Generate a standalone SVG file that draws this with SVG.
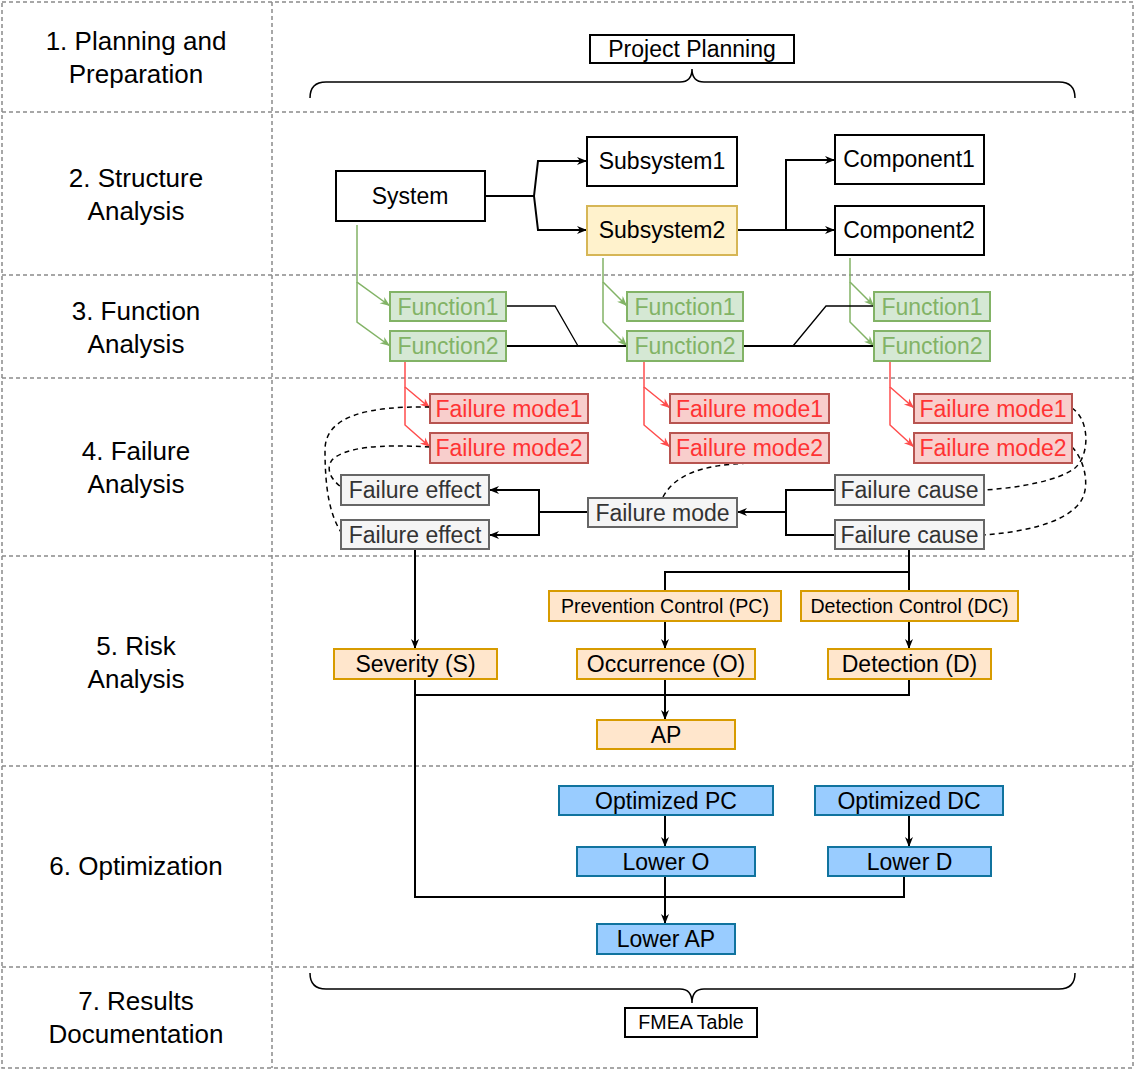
<svg xmlns="http://www.w3.org/2000/svg" width="1137" height="1071" viewBox="0 0 1137 1071">
<style>
text{font-family:"Liberation Sans",Arial,sans-serif;text-anchor:middle;dominant-baseline:central}
.lbl{font-size:26px;fill:#000}
.t{font-size:23px}
.ts{font-size:19.6px}
.grid{fill:none;stroke:#8a8a8a;stroke-width:1.5;stroke-dasharray:4 3}
.blk{fill:#fff;stroke:#000;stroke-width:2}
.yel{fill:#fff2cc;stroke:#d6b656;stroke-width:2}
.grn{fill:#d5e8d4;stroke:#82b366;stroke-width:2}
.red{fill:#f8cecc;stroke:#b85450;stroke-width:2}
.gry{fill:#f5f5f5;stroke:#666;stroke-width:2}
.org{fill:#ffe6cc;stroke:#d79b00;stroke-width:2}
.blu{fill:#99ccff;stroke:#10739e;stroke-width:2}
.tg{fill:#82b366}.tr{fill:#ff3333}.tk{fill:#333}.tb{fill:#000}
.c{fill:none;stroke:#000;stroke-width:2}
.c1{fill:none;stroke:#000;stroke-width:1.3}
.cg{fill:none;stroke:#82b366;stroke-width:1.5}
.cr{fill:none;stroke:#ff4d4d;stroke-width:1.5}
.cd{fill:none;stroke:#000;stroke-width:1.5;stroke-dasharray:5 4}
.br{fill:none;stroke:#000;stroke-width:1.5}
</style>
<defs>
<marker id="ak" viewBox="0 0 10 10" refX="10" refY="5" markerWidth="11" markerHeight="10" markerUnits="userSpaceOnUse" orient="auto"><path d="M0,1 L10,5 L0,9 L3,5 Z" fill="#000"/></marker>
<marker id="ag" viewBox="0 0 10 10" refX="10" refY="5" markerWidth="11" markerHeight="10" markerUnits="userSpaceOnUse" orient="auto"><path d="M0,1 L10,5 L0,9 L3,5 Z" fill="#82b366"/></marker>
<marker id="ar" viewBox="0 0 10 10" refX="10" refY="5" markerWidth="11" markerHeight="10" markerUnits="userSpaceOnUse" orient="auto"><path d="M0,1 L10,5 L0,9 L3,5 Z" fill="#ff4d4d"/></marker>
</defs>
<rect width="1137" height="1071" fill="#fff"/>
<g id="grid">
<rect class="grid" x="2" y="2" width="1131" height="1066"/>
<line class="grid" x1="272" y1="2" x2="272" y2="1068"/>
<line class="grid" x1="2" y1="112" x2="1133" y2="112"/>
<line class="grid" x1="2" y1="275" x2="1133" y2="275"/>
<line class="grid" x1="2" y1="378" x2="1133" y2="378"/>
<line class="grid" x1="2" y1="556" x2="1133" y2="556"/>
<line class="grid" x1="2" y1="766" x2="1133" y2="766"/>
<line class="grid" x1="2" y1="967" x2="1133" y2="967"/>
</g>
<g id="labels">
<text class="lbl" x="136" y="41">1. Planning and</text>
<text class="lbl" x="136" y="74">Preparation</text>
<text class="lbl" x="136" y="178">2. Structure</text>
<text class="lbl" x="136" y="211">Analysis</text>
<text class="lbl" x="136" y="311">3. Function</text>
<text class="lbl" x="136" y="344">Analysis</text>
<text class="lbl" x="136" y="451">4. Failure</text>
<text class="lbl" x="136" y="484">Analysis</text>
<text class="lbl" x="136" y="646">5. Risk</text>
<text class="lbl" x="136" y="679">Analysis</text>
<text class="lbl" x="136" y="866">6. Optimization</text>
<text class="lbl" x="136" y="1001">7. Results</text>
<text class="lbl" x="136" y="1034">Documentation</text>
</g>
<g id="braces">
<path class="br" d="M310,98 Q310,82 326,82 L680,82 Q692,82 692,69 Q692,82 704,82 L1059,82 Q1075,82 1075,98"/>
<path class="br" d="M310,973 Q310,989 326,989 L680,989 Q692,989 692,1003 Q692,989 704,989 L1059,989 Q1075,989 1075,973"/>
</g>
<g id="connectors">
<path class="c" d="M485,196 H534 L538,161 H587" marker-end="url(#ak)"/>
<path class="c" d="M534,196 L538,230 H587" marker-end="url(#ak)"/>
<path class="c" d="M737,230 H835" marker-end="url(#ak)"/>
<path class="c" d="M786,230 V160 H835" marker-end="url(#ak)"/>
<path class="cg" d="M357,225 V282 L390,306" marker-end="url(#ag)"/>
<path class="cg" d="M357,282 V322 L390,346" marker-end="url(#ag)"/>
<path class="cg" d="M603,258 V282 L627,306" marker-end="url(#ag)"/>
<path class="cg" d="M603,282 V322 L627,346" marker-end="url(#ag)"/>
<path class="cg" d="M850,258 V282 L874,306" marker-end="url(#ag)"/>
<path class="cg" d="M850,282 V322 L874,346" marker-end="url(#ag)"/>
<path class="c1" d="M506,306 H555 L578,346"/>
<path class="c" d="M506,346 H627"/>
<path class="c" d="M743,346 H874"/>
<path class="c1" d="M793,346 L826,306 H874"/>
<path class="cr" d="M405,361 V387 L430,408" marker-end="url(#ar)"/>
<path class="cr" d="M405,387 V425 L430,447" marker-end="url(#ar)"/>
<path class="cr" d="M644,361 V387 L670,408" marker-end="url(#ar)"/>
<path class="cr" d="M644,387 V425 L670,447" marker-end="url(#ar)"/>
<path class="cr" d="M890,361 V387 L914,408" marker-end="url(#ar)"/>
<path class="cr" d="M890,387 V425 L914,447" marker-end="url(#ar)"/>
<path class="cd" d="M430,407 C370,406 325,415 325,450 C325,490 330,515 341,532"/>
<path class="cd" d="M430,447 C380,444 345,447 332,460 C325,470 332,480 341,487"/>
<path class="cd" d="M663,497 C675,475 700,465 750,463"/>
<path class="cd" d="M1072,408 C1090,420 1090,455 1075,468 C1060,480 1020,488 984,490"/>
<path class="cd" d="M1072,447 C1085,460 1092,490 1078,505 C1060,525 1020,532 984,535"/>
<path class="c" d="M588,512 H539 V490 H489" marker-end="url(#ak)"/>
<path class="c" d="M539,512 V535 H489" marker-end="url(#ak)"/>
<path class="c" d="M835,490 H786 V535 H835"/>
<path class="c" d="M786,512 H737" marker-end="url(#ak)"/>
<path class="c" d="M415,549 V649" marker-end="url(#ak)"/>
<path class="c" d="M909,549 V591"/>
<path class="c" d="M909,572 H665 V591"/>
<path class="c" d="M665,621 V649" marker-end="url(#ak)"/>
<path class="c" d="M909,621 V649" marker-end="url(#ak)"/>
<path class="c" d="M415,679 V897 H904 V876"/>
<path class="c" d="M415,695 H909 V679"/>
<path class="c" d="M665,679 V720" marker-end="url(#ak)"/>
<path class="c" d="M665,815 V847" marker-end="url(#ak)"/>
<path class="c" d="M909,815 V847" marker-end="url(#ak)"/>
<path class="c" d="M665,876 V924" marker-end="url(#ak)"/>
</g>
<g id="project-planning"><rect class="blk" x="590" y="35" width="204" height="28"/><text class="t tb" x="692" y="49">Project Planning</text></g>
<g id="fmea-table"><rect class="blk" x="625" y="1008" width="132" height="29"/><text class="ts tb" x="691" y="1022">FMEA Table</text></g>
<g id="system"><rect class="blk" x="336" y="171" width="149" height="50"/><text class="t tb" x="410" y="196">System</text></g>
<g id="subsystem1"><rect class="blk" x="587" y="137" width="150" height="49"/><text class="t tb" x="662" y="161">Subsystem1</text></g>
<g id="subsystem2"><rect class="yel" x="587" y="206" width="150" height="49"/><text class="t tb" x="662" y="230">Subsystem2</text></g>
<g id="component1"><rect class="blk" x="835" y="135" width="149" height="49"/><text class="t tb" x="909" y="159">Component1</text></g>
<g id="component2"><rect class="blk" x="835" y="206" width="149" height="49"/><text class="t tb" x="909" y="230">Component2</text></g>
<g id="function1-a"><rect class="grn" x="390" y="292" width="116" height="29"/><text class="t tg" x="448" y="306.5">Function1</text></g>
<g id="function2-a"><rect class="grn" x="390" y="331" width="116" height="30"/><text class="t tg" x="448" y="346">Function2</text></g>
<g id="function1-b"><rect class="grn" x="627" y="292" width="116" height="29"/><text class="t tg" x="685" y="306.5">Function1</text></g>
<g id="function2-b"><rect class="grn" x="627" y="331" width="116" height="30"/><text class="t tg" x="685" y="346">Function2</text></g>
<g id="function1-c"><rect class="grn" x="874" y="292" width="116" height="29"/><text class="t tg" x="932" y="306.5">Function1</text></g>
<g id="function2-c"><rect class="grn" x="874" y="331" width="116" height="30"/><text class="t tg" x="932" y="346">Function2</text></g>
<g id="failure-mode1-a"><rect class="red" x="430" y="394" width="158" height="29"/><text class="t tr" x="509" y="408.5">Failure mode1</text></g>
<g id="failure-mode2-a"><rect class="red" x="430" y="433" width="158" height="30"/><text class="t tr" x="509" y="448">Failure mode2</text></g>
<g id="failure-mode1-b"><rect class="red" x="670" y="394" width="159" height="29"/><text class="t tr" x="749.5" y="408.5">Failure mode1</text></g>
<g id="failure-mode2-b"><rect class="red" x="670" y="433" width="159" height="30"/><text class="t tr" x="749.5" y="448">Failure mode2</text></g>
<g id="failure-mode1-c"><rect class="red" x="914" y="394" width="158" height="29"/><text class="t tr" x="993" y="408.5">Failure mode1</text></g>
<g id="failure-mode2-c"><rect class="red" x="914" y="433" width="158" height="30"/><text class="t tr" x="993" y="448">Failure mode2</text></g>
<g id="failure-effect1"><rect class="gry" x="341" y="475" width="148" height="30"/><text class="t tk" x="415" y="490">Failure effect</text></g>
<g id="failure-effect2"><rect class="gry" x="341" y="520" width="148" height="29"/><text class="t tk" x="415" y="534.5">Failure effect</text></g>
<g id="failure-mode"><rect class="gry" x="588" y="498" width="149" height="29"/><text class="t tk" x="662.5" y="512.5">Failure mode</text></g>
<g id="failure-cause1"><rect class="gry" x="835" y="475" width="149" height="30"/><text class="t tk" x="909.5" y="490">Failure cause</text></g>
<g id="failure-cause2"><rect class="gry" x="835" y="520" width="149" height="29"/><text class="t tk" x="909.5" y="534.5">Failure cause</text></g>
<g id="prevention-control"><rect class="org" x="549" y="591" width="232" height="30"/><text class="ts tb" x="665" y="606">Prevention Control (PC)</text></g>
<g id="detection-control"><rect class="org" x="801" y="591" width="217" height="30"/><text class="ts tb" x="909.5" y="606">Detection Control (DC)</text></g>
<g id="severity"><rect class="org" x="334" y="649" width="163" height="30"/><text class="t tb" x="415.5" y="664">Severity (S)</text></g>
<g id="occurrence"><rect class="org" x="577" y="649" width="178" height="30"/><text class="t tb" x="666" y="664">Occurrence (O)</text></g>
<g id="detection"><rect class="org" x="828" y="649" width="163" height="30"/><text class="t tb" x="909.5" y="664">Detection (D)</text></g>
<g id="ap"><rect class="org" x="597" y="720" width="138" height="29"/><text class="t tb" x="666" y="734.5">AP</text></g>
<g id="optimized-pc"><rect class="blu" x="559" y="786" width="214" height="29"/><text class="t tb" x="666" y="800.5">Optimized PC</text></g>
<g id="optimized-dc"><rect class="blu" x="815" y="786" width="188" height="29"/><text class="t tb" x="909" y="800.5">Optimized DC</text></g>
<g id="lower-o"><rect class="blu" x="577" y="847" width="178" height="29"/><text class="t tb" x="666" y="861.5">Lower O</text></g>
<g id="lower-d"><rect class="blu" x="828" y="847" width="163" height="29"/><text class="t tb" x="909.5" y="861.5">Lower D</text></g>
<g id="lower-ap"><rect class="blu" x="597" y="924" width="138" height="30"/><text class="t tb" x="666" y="939">Lower AP</text></g>
</svg>
